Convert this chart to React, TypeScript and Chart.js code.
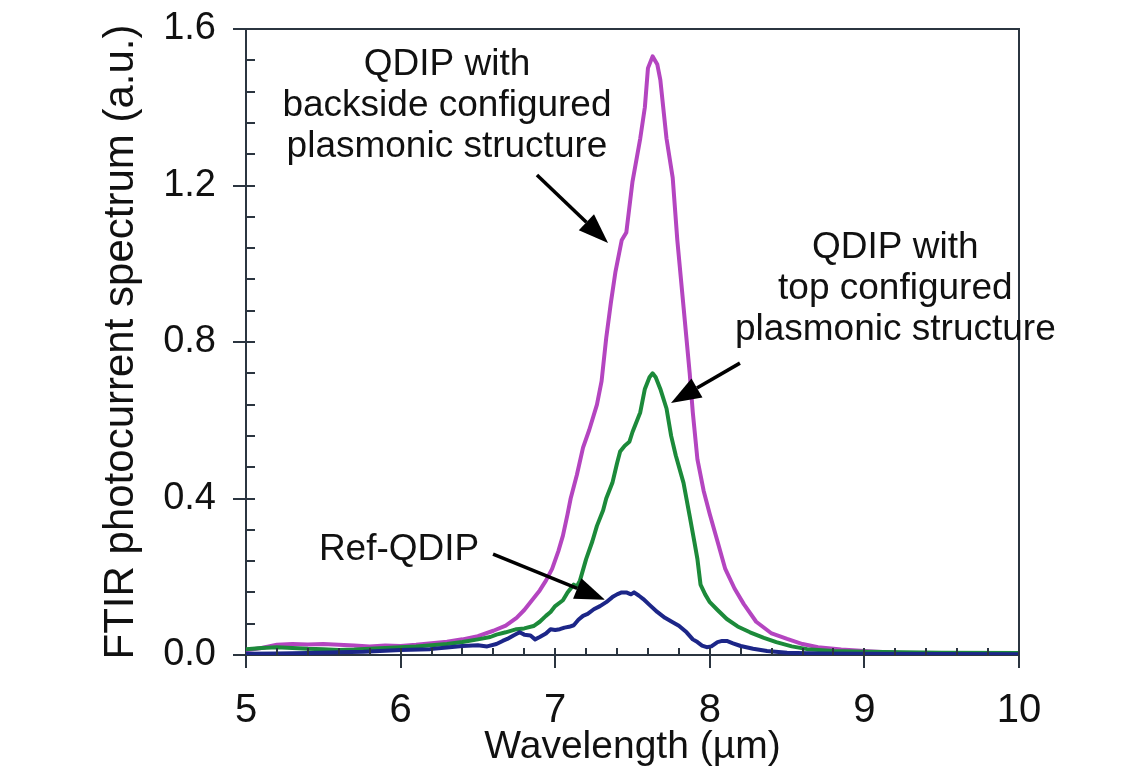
import { useEffect, useRef } from "react";
import { Chart, registerables } from "chart.js";

Chart.register(...registerables);

// ---------- data ----------
const xTickValues = [5, 6, 7, 8, 9, 10];
const yTickValues = [0, 0.4, 0.8, 1.2, 1.6];

const backsideX = [5.0, 5.1, 5.2, 5.3, 5.4, 5.5, 5.6, 5.7, 5.8, 5.9, 6.0, 6.1, 6.2, 6.3, 6.4, 6.5, 6.6, 6.68, 6.75, 6.8, 6.85, 6.9, 6.94, 6.98, 7.02, 7.05, 7.08, 7.1, 7.14, 7.18, 7.22, 7.27, 7.3, 7.33, 7.36, 7.39, 7.43, 7.46, 7.5, 7.55, 7.58, 7.6, 7.63, 7.66, 7.68, 7.72, 7.76, 7.79, 7.83, 7.87, 7.89, 7.92, 7.96, 8.0, 8.05, 8.1, 8.16, 8.22, 8.3, 8.4, 8.5, 8.6, 8.7, 8.85, 9.0, 9.2, 9.3, 9.5, 10.0];
const backsideY = [0.012, 0.018, 0.026, 0.028, 0.027, 0.028, 0.026, 0.024, 0.022, 0.024, 0.023, 0.026, 0.03, 0.034, 0.04, 0.048, 0.062, 0.075, 0.095, 0.115, 0.14, 0.165, 0.19, 0.22, 0.265, 0.305, 0.36, 0.4, 0.46, 0.53, 0.575, 0.64, 0.7, 0.81, 0.9, 0.98, 1.06, 1.08, 1.21, 1.32, 1.4, 1.5, 1.53, 1.51, 1.47, 1.32, 1.22, 1.06, 0.89, 0.72, 0.62, 0.5, 0.42, 0.36, 0.29, 0.22, 0.17, 0.13, 0.085, 0.055, 0.041, 0.028, 0.02, 0.014, 0.01, 0.006, 0.004, 0.002, 0.001];

const topX = [5.0, 5.1, 5.2, 5.3, 5.4, 5.5, 5.6, 5.7, 5.8, 5.9, 6.0, 6.1, 6.2, 6.3, 6.4, 6.5, 6.58, 6.62, 6.68, 6.75, 6.8, 6.86, 6.9, 6.94, 6.97, 7.0, 7.05, 7.08, 7.12, 7.14, 7.16, 7.2, 7.24, 7.27, 7.31, 7.33, 7.37, 7.4, 7.42, 7.45, 7.48, 7.5, 7.55, 7.58, 7.61, 7.63, 7.65, 7.68, 7.72, 7.75, 7.78, 7.83, 7.87, 7.9, 7.92, 7.94, 7.97, 8.0, 8.05, 8.11, 8.18, 8.26, 8.35, 8.43, 8.53, 8.63, 8.8, 9.0, 9.5, 10.0];
const topY = [0.015, 0.018, 0.02, 0.018, 0.016, 0.015, 0.013, 0.014, 0.016, 0.018, 0.02, 0.022, 0.025, 0.028, 0.033, 0.04, 0.046, 0.052, 0.058, 0.066, 0.068, 0.074, 0.085, 0.1, 0.11, 0.125, 0.14, 0.16, 0.18, 0.175, 0.19, 0.245, 0.29, 0.33, 0.37, 0.4, 0.44, 0.49, 0.52, 0.535, 0.545, 0.57, 0.62, 0.68, 0.71, 0.72, 0.71, 0.68, 0.63, 0.56, 0.51, 0.44, 0.355, 0.29, 0.245, 0.18, 0.155, 0.135, 0.115, 0.092, 0.073, 0.058, 0.044, 0.033, 0.022, 0.015, 0.01, 0.008, 0.006, 0.005];

const refX = [5.0, 5.2, 5.4, 5.6, 5.76, 5.9, 6.0, 6.19, 6.3, 6.4, 6.5, 6.56, 6.62, 6.66, 6.69, 6.73, 6.77, 6.8, 6.84, 6.87, 6.9, 6.94, 6.97, 7.0, 7.03, 7.06, 7.09, 7.12, 7.15, 7.18, 7.21, 7.25, 7.29, 7.33, 7.37, 7.4, 7.43, 7.46, 7.49, 7.51, 7.54, 7.57, 7.61, 7.66, 7.71, 7.76, 7.8, 7.85, 7.89, 7.92, 7.95, 7.98, 8.01, 8.05, 8.08, 8.11, 8.15, 8.2, 8.28, 8.37, 8.5, 8.7, 9.0, 10.0];
const refY = [0.003, 0.004, 0.005, 0.007, 0.008, 0.011, 0.013, 0.015, 0.019, 0.023, 0.025, 0.022, 0.028, 0.036, 0.041, 0.05, 0.058, 0.052, 0.05, 0.04, 0.046, 0.055, 0.066, 0.064, 0.066, 0.07, 0.072, 0.076, 0.09, 0.1, 0.105, 0.117, 0.125, 0.135, 0.148, 0.155, 0.16, 0.16, 0.155, 0.16, 0.152, 0.143, 0.128, 0.11, 0.095, 0.084, 0.075, 0.058, 0.04, 0.033, 0.024, 0.02, 0.022, 0.033, 0.036, 0.036, 0.03, 0.023, 0.016, 0.01, 0.006, 0.004, 0.003, 0.002];

const seriesNames = ["Ref-QDIP", "QDIP top", "QDIP backside"];
const seriesColors = ["#1c2688", "#1c8a3a", "#b445c0"];

// annotation text: [center x, first baseline y] in data units
const backsideLabel = ["QDIP with", "backside configured", "plasmonic structure"];
const backsideLabelAt = [6.3, 1.482];
const topLabel = ["QDIP with", "top configured", "plasmonic structure"];
const topLabelAt = [9.2, 1.015];
const refLabel = ["Ref-QDIP"];
const refLabelAt = [5.99, 0.243];

// arrows: [tailX, tailY, tipX, tipY] in data units
const arrowBackside = [6.882, 1.227, 7.342, 1.053];
const arrowTop = [8.195, 0.746, 7.749, 0.644];
const arrowRef = [6.598, 0.258, 7.322, 0.141];

const xTitle = "Wavelength (\u00b5m)";
const yTitle = "FTIR photocurrent spectrum (a.u.)";

const FONT = "'Liberation Sans', Arial, Helvetica, sans-serif";
const AXIS_COLOR = "#2b3540";

function toPoints(xs: number[], ys: number[]) {
  return xs.map((x, i) => ({ x, y: ys[i] }));
}

const decorPlugin = {
  id: "decor",
  afterDatasetsDraw(chart: any) {
    const { ctx, chartArea: a, scales } = chart;
    const xs = scales.x;
    const ys = scales.y;
    ctx.save();
    ctx.strokeStyle = AXIS_COLOR;
    ctx.lineWidth = 2;
    // frame top & right
    ctx.beginPath();
    ctx.moveTo(a.left, a.top);
    ctx.lineTo(a.right, a.top);
    ctx.lineTo(a.right, a.bottom);
    ctx.stroke();
    ctx.beginPath();
    // x ticks inside, every 0.2 (majors included)
    for (let i = 1; i < 25; i++) {
      const v = 5 + i * 0.2;
      const px = Math.round(xs.getPixelForValue(v));
      ctx.moveTo(px, a.bottom);
      ctx.lineTo(px, a.bottom - 7);
    }
    // y ticks inside, every 0.08 (majors included)
    for (let i = 1; i < 20; i++) {
      const v = i * 0.08;
      const py = Math.round(ys.getPixelForValue(v));
      ctx.moveTo(a.left, py);
      ctx.lineTo(a.left + 9, py);
    }
    ctx.stroke();
    ctx.restore();
  },
  afterDraw(chart: any) {
    const { ctx, scales } = chart;
    const xs = scales.x;
    const ys = scales.y;
    ctx.save();
    ctx.fillStyle = "#111";
    ctx.font = `37px ${FONT}`;
    ctx.textAlign = "center";
    ctx.textBaseline = "alphabetic";
    const drawLabel = (lines: string[], at: number[]) => {
      const cx = xs.getPixelForValue(at[0]);
      const by = ys.getPixelForValue(at[1]);
      lines.forEach((t, i) => ctx.fillText(t, cx, by + i * 41));
    };
    drawLabel(backsideLabel, backsideLabelAt);
    drawLabel(topLabel, topLabelAt);
    drawLabel(refLabel, refLabelAt);

    const drawArrow = (arr: number[]) => {
      const x0 = xs.getPixelForValue(arr[0]);
      const y0 = ys.getPixelForValue(arr[1]);
      const x1 = xs.getPixelForValue(arr[2]);
      const y1 = ys.getPixelForValue(arr[3]);
      const ang = Math.atan2(y1 - y0, x1 - x0);
      const headLen = 30;
      const headHalf = 11;
      const bx = x1 - headLen * Math.cos(ang);
      const by = y1 - headLen * Math.sin(ang);
      ctx.strokeStyle = "#000";
      ctx.lineWidth = 3.5;
      ctx.beginPath();
      ctx.moveTo(x0, y0);
      ctx.lineTo(bx, by);
      ctx.stroke();
      ctx.fillStyle = "#000";
      ctx.beginPath();
      ctx.moveTo(x1, y1);
      ctx.lineTo(bx + headHalf * Math.sin(ang), by - headHalf * Math.cos(ang));
      ctx.lineTo(bx - headHalf * Math.sin(ang), by + headHalf * Math.cos(ang));
      ctx.closePath();
      ctx.fill();
    };
    drawArrow(arrowBackside);
    drawArrow(arrowTop);
    drawArrow(arrowRef);
    ctx.restore();
  },
};

export default function App() {
  const canvasRef = useRef<HTMLCanvasElement | null>(null);

  useEffect(() => {
    const canvas = canvasRef.current;
    if (!canvas) return;
    const chart = new Chart(canvas, {
      type: "line",
      data: {
        datasets: [
          { label: seriesNames[0], data: toPoints(refX, refY), borderColor: seriesColors[0] },
          { label: seriesNames[1], data: toPoints(topX, topY), borderColor: seriesColors[1] },
          { label: seriesNames[2], data: toPoints(backsideX, backsideY), borderColor: seriesColors[2] },
        ].map((d) => ({ ...d, borderWidth: 4, pointRadius: 0, tension: 0, fill: false, borderJoinStyle: "round" })),
      },
      options: {
        animation: false,
        responsive: false,
        devicePixelRatio: 1,
        layout: { padding: { left: 0, top: 29, right: 124, bottom: 0 } },
        plugins: { legend: { display: false }, tooltip: { enabled: false } },
        scales: {
          x: {
            type: "linear",
            min: 5,
            max: 10,
            afterBuildTicks: (scale: any) => {
              scale.ticks = xTickValues.map((v) => ({ value: v }));
            },
            afterFit: (scale: any) => {
              scale.height = 118;
              scale.paddingLeft = 0;
              scale.paddingRight = 0;
            },
            ticks: {
              font: { family: FONT, size: 40 },
              color: "#111",
              padding: 19,
              maxRotation: 0,
              callback: (v: any) => String(v),
            },
            grid: {
              drawOnChartArea: false,
              drawTicks: true,
              tickLength: 13,
              color: AXIS_COLOR,
              lineWidth: 2,
            },
            border: { display: true, color: AXIS_COLOR, width: 2 },
            title: {
              display: true,
              text: xTitle,
              font: { family: FONT, size: 39 },
              color: "#111",
              padding: { top: 0, bottom: 2 },
            },
          },
          y: {
            type: "linear",
            min: 0,
            max: 1.6,
            afterBuildTicks: (scale: any) => {
              scale.ticks = yTickValues.map((v) => ({ value: v }));
            },
            afterFit: (scale: any) => {
              scale.width = 246;
              scale.paddingTop = 0;
              scale.paddingBottom = 0;
            },
            ticks: {
              font: { family: FONT, size: 38 },
              color: "#111",
              padding: 17,
              callback: (v: any) => Number(v).toFixed(1),
            },
            grid: {
              drawOnChartArea: false,
              drawTicks: true,
              tickLength: 13,
              color: AXIS_COLOR,
              lineWidth: 2,
            },
            border: { display: true, color: AXIS_COLOR, width: 2 },
            title: {
              display: true,
              text: yTitle,
              font: { family: FONT, size: 42 },
              color: "#111",
              padding: { top: 96, bottom: 0 },
            },
          },
        },
      },
      plugins: [decorPlugin],
    } as any);
    return () => chart.destroy();
  }, []);

  return (
    <div style={{ position: "fixed", left: 0, top: 0, width: 1143, height: 773, background: "#fff" }}>
      <canvas ref={canvasRef} width={1143} height={773} />
    </div>
  );
}
